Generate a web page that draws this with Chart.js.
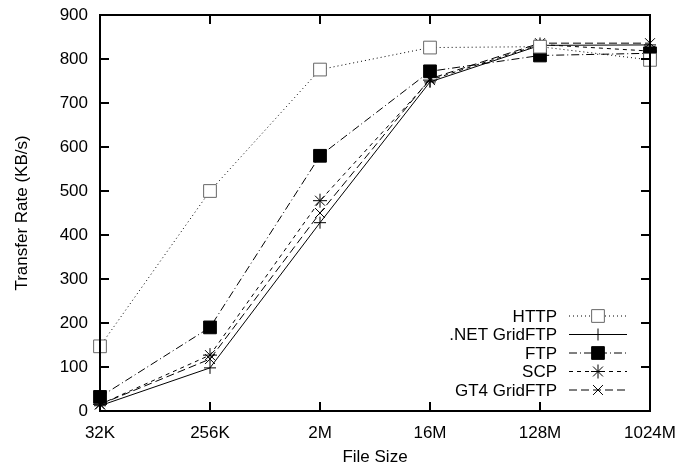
<!DOCTYPE html>
<html>
<head>
<meta charset="utf-8">
<script src="https://cdn.jsdelivr.net/npm/chart.js@4"></script>
<style>
    html, body { margin: 0; padding: 0; background: #fff; }
    #wrap { width: 695px; height: 468px; }
</style>
</head>
<body>
<div id="wrap"><canvas id="chart" width="695" height="468"></canvas></div>
<script>
// file sizes on the x axis
const fileSizes = ['32K', '256K', '2M', '16M', '128M', '1024M'];
const yTicks = [0, 100, 200, 300, 400, 500, 600, 700, 800, 900];

// transfer rates (KB/s)
const httpRates = [147, 500, 776, 826, 828, 798];
const netGridftpRates = [12, 98, 428, 748, 831, 832];
const ftpRates = [32, 190, 580, 772, 808, 813];
const scpRates = [15, 127, 478, 752, 833, 818];
const gt4GridftpRates = [15, 118, 450, 755, 836, 836];

const FONT = '"Liberation Sans", Arial, sans-serif';
const FONT_SIZE = 17;

// axes ticks point inward and the plot is boxed, like gnuplot
const framePlugin = {
    id: 'frame',
    afterDraw(chart) {
        const ctx = chart.ctx;
        const a = chart.chartArea;
        const x = chart.scales.x;
        const y = chart.scales.y;
        ctx.save();
        ctx.strokeStyle = '#000';
        ctx.lineWidth = 2;
        ctx.beginPath();
        x.ticks.forEach((t, i) => {
            const px = x.getPixelForTick(i);
            ctx.moveTo(px, a.bottom); ctx.lineTo(px, a.bottom - 9);
            ctx.moveTo(px, a.top); ctx.lineTo(px, a.top + 9);
        });
        y.ticks.forEach((t, i) => {
            const py = y.getPixelForTick(i);
            ctx.moveTo(a.left, py); ctx.lineTo(a.left + 9, py);
            ctx.moveTo(a.right, py); ctx.lineTo(a.right - 9, py);
        });
        ctx.stroke();
        ctx.strokeRect(a.left, a.top, a.right - a.left, a.bottom - a.top);
        ctx.restore();
    }
};

// gnuplot style key: right aligned text, then a line sample with the marker
const keyPlugin = {
    id: 'key',
    afterDatasetsDraw(chart) {
        const ctx = chart.ctx;
        const textRight = 557, lineL = 569, lineR = 627, mid = 598;
        let rowY = 316;
        ctx.save();
        ctx.font = FONT_SIZE + 'px ' + FONT;
        ctx.textAlign = 'right';
        ctx.textBaseline = 'middle';
        chart.data.datasets.forEach(ds => {
            ctx.fillStyle = '#000';
            ctx.fillText(ds.label, textRight, rowY + 1);
            ctx.strokeStyle = ds.borderColor;
            ctx.lineWidth = 1;
            ctx.setLineDash(ds.borderDash || []);
            ctx.beginPath();
            ctx.moveTo(lineL, rowY);
            ctx.lineTo(lineR, rowY);
            ctx.stroke();
            ctx.setLineDash([]);
            ctx.fillStyle = ds.pointBackgroundColor;
            ctx.strokeStyle = ds.pointBorderColor;
            ctx.lineWidth = 1;
            Chart.helpers.drawPoint(ctx, {
                pointStyle: ds.pointStyle,
                radius: ds.pointRadius,
                borderWidth: 1
            }, mid, rowY);
            rowY += 18.5;
        });
        ctx.restore();
    }
};

function series(label, data, dash, style, radius, fill, border) {
    return {
        label: label,
        data: data,
        borderColor: '#000',
        borderWidth: 1,
        borderDash: dash,
        pointStyle: style,
        pointRadius: radius,
        pointHoverRadius: radius,
        pointBackgroundColor: fill,
        pointBorderColor: border,
        pointBorderWidth: 1,
        tension: 0,
        fill: false
    };
}

new Chart(document.getElementById('chart'), {
    type: 'line',
    data: {
        labels: fileSizes,
        datasets: [
            series('HTTP', httpRates, [1, 3], 'rect', 9, '#fff', '#666'),
            series('.NET GridFTP', netGridftpRates, [], 'cross', 6, '#000', '#000'),
            series('FTP', ftpRates, [8, 3, 1, 3], 'rect', 9, '#000', '#000'),
            series('SCP', scpRates, [4, 4], 'star', 7, '#000', '#000'),
            series('GT4 GridFTP', gt4GridftpRates, [8, 4], 'crossRot', 7, '#000', '#000')
        ]
    },
    options: {
        responsive: false,
        animation: false,
        devicePixelRatio: 1,
        layout: { padding: { top: 15, right: 45, left: 0, bottom: 0 } },
        plugins: {
            legend: { display: false },
            tooltip: { enabled: false }
        },
        scales: {
            x: {
                type: 'category',
                offset: false,
                grid: { display: false, drawTicks: false },
                border: { display: false },
                ticks: {
                    color: '#000',
                    padding: 12,
                    maxRotation: 0,
                    font: { family: FONT, size: FONT_SIZE }
                },
                title: {
                    display: true,
                    text: 'File Size',
                    color: '#000',
                    padding: { top: 3, bottom: 0 },
                    font: { family: FONT, size: FONT_SIZE }
                },
                afterFit(scale) {
                    scale.height = 57;
                    scale.paddingLeft = 0;
                    scale.paddingRight = 0;
                }
            },
            y: {
                min: 0,
                max: 900,
                afterBuildTicks(scale) {
                    scale.ticks = yTicks.map(v => ({ value: v }));
                },
                grid: { display: false, drawTicks: false },
                border: { display: false },
                ticks: {
                    color: '#000',
                    padding: 12,
                    font: { family: FONT, size: FONT_SIZE }
                },
                title: {
                    display: true,
                    text: 'Transfer Rate (KB/s)',
                    color: '#000',
                    padding: { top: 12, bottom: 0 },
                    font: { family: FONT, size: FONT_SIZE }
                },
                afterFit(scale) {
                    scale.width = 100;
                    scale.paddingTop = 0;
                    scale.paddingBottom = 0;
                }
            }
        }
    },
    plugins: [framePlugin, keyPlugin]
});
</script>
</body>
</html>
